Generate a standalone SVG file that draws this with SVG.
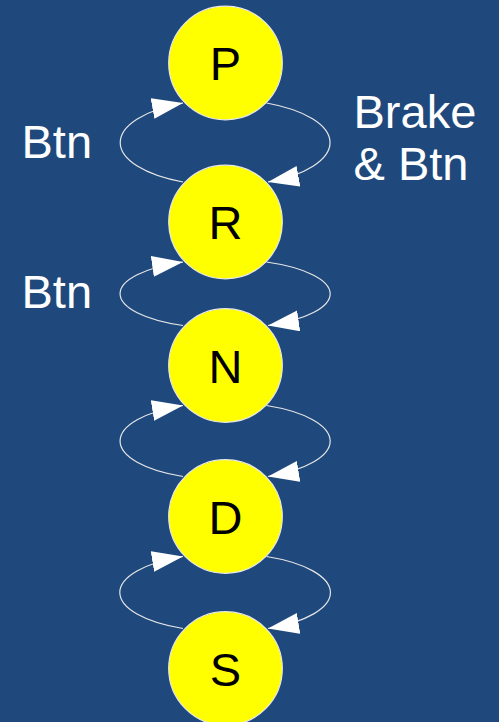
<svg xmlns="http://www.w3.org/2000/svg" width="499" height="722" viewBox="0 0 499 722">
  <defs>
    <marker id="arrow" markerUnits="userSpaceOnUse" markerWidth="33" markerHeight="22" refX="31" refY="10.5" orient="auto">
      <path d="M0,0 L31,10.5 L0,21 z" fill="#ffffff"/>
    </marker>
    <style>
      .bg { fill: #1f497d; }
      .state circle { fill: #ffff00; stroke: #e8e8e8; stroke-width: 1.2; }
      .state text { font-family: "Liberation Sans", Arial, sans-serif; font-size: 47px; fill: #000000; text-anchor: middle; }
      .edge { fill: none; stroke: #e6e6e6; stroke-width: 1.2; marker-end: url(#arrow); }
      .label { font-family: "Liberation Sans", Arial, sans-serif; font-size: 47px; fill: #ffffff; }
    </style>
  </defs>

  <rect class="bg" x="0" y="0" width="499" height="722"/>

  <!-- transitions: left arcs go up, right arcs go down -->
  <g id="connectors">
    <path class="edge" d="M183,182 A105.5 43.2 0 0 1 183,103"/>
    <path class="edge" d="M266.5,103 A105.5 43.2 0 0 1 268,182"/>
    <path class="edge" d="M183,325.5 A105.5 34.7 0 0 1 183,262"/>
    <path class="edge" d="M266.5,262 A105.5 34.7 0 0 1 268,325.5"/>
    <path class="edge" d="M183,476.5 A105.5 38.8 0 0 1 183,405.5"/>
    <path class="edge" d="M266.5,405.5 A105.5 38.8 0 0 1 268,476.5"/>
    <path class="edge" d="M183,628.5 A105.5 39.3 0 0 1 183,556.5"/>
    <path class="edge" d="M266.5,556.5 A105.5 39.3 0 0 1 268,628.5"/>
  </g>

  <g id="state-P" class="state">
    <circle cx="225.5" cy="63" r="56.8"/>
    <text x="225.5" y="80">P</text>
  </g>
  <g id="state-R" class="state">
    <circle cx="225.5" cy="222" r="56.8"/>
    <text x="225.5" y="239">R</text>
  </g>
  <g id="state-N" class="state">
    <circle cx="225.5" cy="365.5" r="56.8"/>
    <text x="225.5" y="382.5">N</text>
  </g>
  <g id="state-D" class="state">
    <circle cx="225.5" cy="516.5" r="56.8"/>
    <text x="225.5" y="533.5">D</text>
  </g>
  <g id="state-S" class="state">
    <circle cx="225.5" cy="668.5" r="56.8"/>
    <text x="225.5" y="685.5">S</text>
  </g>

  <g id="labels">
    <text class="label" x="21.5" y="157.5">Btn</text>
    <text class="label" x="21.5" y="307.5">Btn</text>
    <text class="label" x="353.5" y="127.5">Brake</text>
    <text class="label" x="353.5" y="180">&amp; Btn</text>
  </g>
</svg>
